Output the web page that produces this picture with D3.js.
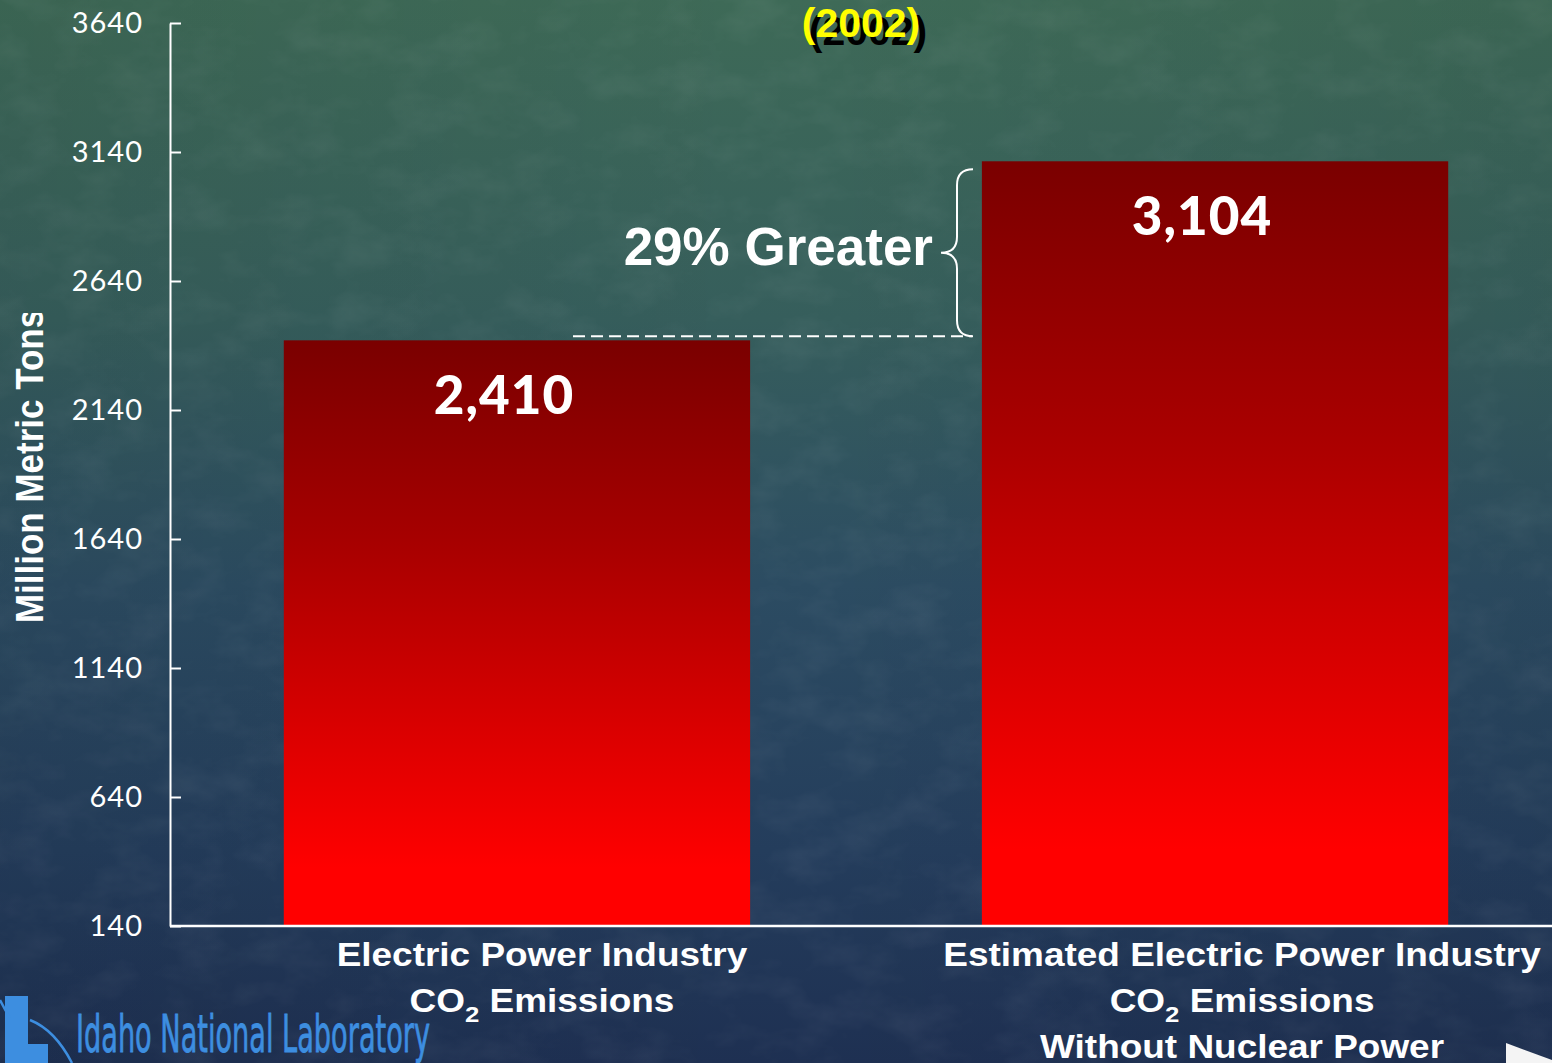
<!DOCTYPE html>
<html>
<head>
<meta charset="utf-8">
<script src="https://cdn.jsdelivr.net/npm/d3@7"></script>
<style>
  html, body { margin: 0; padding: 0; background: #1e2f52; overflow: hidden; }
  svg { display: block; }
</style>
</head>
<body>
<svg id="chart" width="1552" height="1063"></svg>
<script>
// Electric power industry CO2 emissions, million metric tons (2002)
const categories = [
  ["Electric Power Industry", "CO|2| Emissions"],
  ["Estimated Electric Power Industry", "CO|2| Emissions", "Without Nuclear Power"]
];
const values = [2410, 3104];
const valueLabels = ["2,410", "3,104"];
const tickValues = [140, 640, 1140, 1640, 2140, 2640, 3140, 3640];
const yearLabel = "(2002)";
const yTitle = "Million Metric Tons";

const W = 1552, H = 1063;
const svg = d3.select("#chart");
const defs = svg.append("defs");

// slide background: green at the top fading to navy
const bg = defs.append("linearGradient").attr("id", "bg").attr("x1", 0).attr("y1", 0).attr("x2", 0).attr("y2", 1);
[["0", "#3e6a57"], ["0.3", "#365e5c"], ["0.55", "#2c4c62"], ["0.8", "#243d5c"], ["1", "#1e3052"]]
  .forEach(([o, c]) => bg.append("stop").attr("offset", o).attr("stop-color", c));
const bgH = defs.append("linearGradient").attr("id", "bgH").attr("x1", 0).attr("y1", 0).attr("x2", 1).attr("y2", 0);
bgH.append("stop").attr("offset", "0").attr("stop-color", "#000").attr("stop-opacity", 0.06);
bgH.append("stop").attr("offset", "0.5").attr("stop-color", "#000").attr("stop-opacity", 0);
bgH.append("stop").attr("offset", "1").attr("stop-color", "#000").attr("stop-opacity", 0.05);

// mottled texture
const tex = defs.append("filter").attr("id", "tex").attr("x", 0).attr("y", 0).attr("width", 1).attr("height", 1);
tex.append("feTurbulence").attr("type", "fractalNoise").attr("baseFrequency", "0.018 0.03").attr("numOctaves", 4).attr("seed", 7).attr("result", "n");
tex.append("feColorMatrix").attr("in", "n").attr("type", "matrix")
  .attr("values", "0 0 0 0 1  0 0 0 0 1  0 0 0 0 1  0 0 0 1.1 -0.45");

// bar fill: dark red at the top to bright red near the base
const barGrad = defs.append("linearGradient").attr("id", "barGrad").attr("x1", 0).attr("y1", 0).attr("x2", 0).attr("y2", 1);
[["0", "#7a0000"], ["0.35", "#a80000"], ["0.7", "#e00000"], ["0.9", "#ff0000"], ["1", "#ff0000"]]
  .forEach(([o, c]) => barGrad.append("stop").attr("offset", o).attr("stop-color", c));

defs.append("clipPath").attr("id", "ytClip")
  .append("rect").attr("x", 0).attr("y", 313).attr("width", 80).attr("height", 700);

svg.append("rect").attr("width", W).attr("height", H).attr("fill", "url(#bg)");
svg.append("rect").attr("width", W).attr("height", H).attr("filter", "url(#tex)").attr("opacity", 0.09);
svg.append("rect").attr("width", W).attr("height", H).attr("fill", "url(#bgH)");

// scales
const y = d3.scaleLinear().domain([140, 3640]).range([926, 23]);
const x = d3.scaleBand().domain(d3.range(values.length)).range([170, 1562])
  .paddingInner(0.332).paddingOuter(0.163);

// bars
svg.append("g").selectAll("rect").data(values).join("rect")
  .attr("x", (d, i) => x(i))
  .attr("y", d => y(d))
  .attr("width", x.bandwidth())
  .attr("height", d => y(140) - y(d))
  .attr("fill", "url(#barGrad)");

// value labels
svg.append("g").selectAll("text").data(values).join("text")
  .attr("x", (d, i) => x(i) + x.bandwidth() / 2 - 13)
  .attr("y", d => y(d) + 74)
  .attr("text-anchor", "middle")
  .attr("fill", "#fff")
  .attr("font-family", "Lato, 'Open Sans', sans-serif")
  .attr("font-weight", 900)
  .attr("font-size", 53)
  .attr("letter-spacing", 1)
  .text((d, i) => valueLabels[i]);

// y axis (ticks point inward)
const yAxis = d3.axisLeft(y).tickValues(tickValues).tickSizeInner(-11).tickSizeOuter(0).tickPadding(27)
  .tickFormat(d3.format("d"));
const gy = svg.append("g").attr("transform", "translate(170,0)").call(yAxis);
gy.select(".domain").attr("stroke", "#fff").attr("stroke-width", 2);
gy.selectAll(".tick line").attr("stroke", "#fff").attr("stroke-width", 2);
gy.selectAll(".tick text")
  .attr("fill", "#fff")
  .attr("font-family", "Lato, sans-serif")
  .attr("font-size", 29)
  .attr("letter-spacing", 1);

// x axis baseline running to the slide edge
svg.append("line")
  .attr("x1", 170).attr("x2", W)
  .attr("y1", y(140)).attr("y2", y(140))
  .attr("stroke", "#fff").attr("stroke-width", 2.5);

// category labels
const catG = svg.append("g").selectAll("g").data(categories).join("g")
  .attr("transform", (d, i) => `translate(${x(i) + x.bandwidth() / 2 + 25 + i * 2},0) scale(1.12,1)`);
catG.each(function (lines) {
  const g = d3.select(this);
  lines.forEach((line, j) => {
    const t = g.append("text")
      .attr("x", 0).attr("y", 966 + j * 46)
      .attr("text-anchor", "middle")
      .attr("fill", "#fff")
      .attr("font-family", "'Liberation Sans', Arial, sans-serif")
      .attr("font-weight", 700)
      .attr("font-size", 33);
    line.split("|").forEach((part, k) => {
      if (k % 2 === 1) {
        t.append("tspan").attr("font-size", 23).attr("dy", 10).text(part);
      } else {
        const s = t.append("tspan").text(part);
        if (k > 0) s.attr("dy", -10);
      }
    });
  });
});

// y title
svg.append("g").attr("clip-path", "url(#ytClip)")
  .append("text")
  .attr("transform", "translate(43,466) scale(1.12,1) rotate(-90)")
  .attr("text-anchor", "middle")
  .attr("fill", "#fff")
  .attr("font-family", "'Liberation Sans', Arial, sans-serif")
  .attr("font-weight", 700)
  .attr("font-size", 35)
  .text(yTitle);

// year caption with drop shadow
const yearX = 861, yearY = 37;
svg.append("text").attr("x", yearX + 7).attr("y", yearY + 8)
  .attr("text-anchor", "middle").attr("fill", "#000")
  .attr("font-family", "'Liberation Sans', Arial, sans-serif").attr("font-weight", 700).attr("font-size", 41)
  .text(yearLabel);
svg.append("text").attr("x", yearX).attr("y", yearY)
  .attr("text-anchor", "middle").attr("fill", "#ffff00")
  .attr("font-family", "'Liberation Sans', Arial, sans-serif").attr("font-weight", 700).attr("font-size", 41)
  .text(yearLabel);

// difference annotation: dashed reference line, brace and percentage
const yLow = y(values[0]) - 4, yHigh = y(values[1]) + 8;
svg.append("line")
  .attr("x1", 573).attr("x2", 972).attr("y1", yLow).attr("y2", yLow)
  .attr("stroke", "#fff").attr("stroke-width", 2).attr("stroke-dasharray", "12,6");
const bx = 957, bTip = 941, bEnd = 973, bMid = (yLow + yHigh) / 2;
const brace = d3.path();
brace.moveTo(bEnd, yHigh);
brace.quadraticCurveTo(bx, yHigh, bx, yHigh + 16);
brace.lineTo(bx, bMid - 16);
brace.quadraticCurveTo(bx, bMid, bTip, bMid);
brace.quadraticCurveTo(bx, bMid, bx, bMid + 16);
brace.lineTo(bx, yLow - 16);
brace.quadraticCurveTo(bx, yLow, bEnd, yLow);
svg.append("path").attr("d", brace.toString())
  .attr("fill", "none").attr("stroke", "#fff").attr("stroke-width", 2);

const pct = Math.round((values[1] / values[0] - 1) * 100);
svg.append("text")
  .attr("x", 933).attr("y", bMid + 12)
  .attr("text-anchor", "end")
  .attr("fill", "#fff")
  .attr("font-family", "'Liberation Sans', Arial, sans-serif")
  .attr("font-weight", 700)
  .attr("font-size", 53)
  .text(`${pct}% Greater`);

// laboratory logo, bottom left
const logo = svg.append("g");
logo.append("path")
  .attr("d", "M5,996 L28,996 L28,1044 L48,1044 L48,1063 L5,1063 Z")
  .attr("fill", "#3d8ee0");
logo.append("path")
  .attr("d", "M0,1000 Q4,1008 10,1018 M30,1020 Q55,1030 72,1063")
  .attr("fill", "none").attr("stroke", "#3d8ee0").attr("stroke-width", 2.5);
logo.append("text")
  .attr("x", 76).attr("y", 1052)
  .attr("fill", "#3d8ee0")
  .attr("stroke", "#3d8ee0").attr("stroke-width", 0.8)
  .attr("font-family", "'DejaVu Sans Condensed', 'Liberation Sans Narrow', sans-serif")
  .attr("font-weight", 400)
  .attr("font-size", 52)
  .attr("textLength", 354)
  .attr("lengthAdjust", "spacingAndGlyphs")
  .text("Idaho National Laboratory");

// navigation arrow corner
svg.append("path")
  .attr("d", "M1506,1043 L1552,1060 L1552,1063 L1506,1063 Z")
  .attr("fill", "#f4f4f4");
</script>
</body>
</html>
